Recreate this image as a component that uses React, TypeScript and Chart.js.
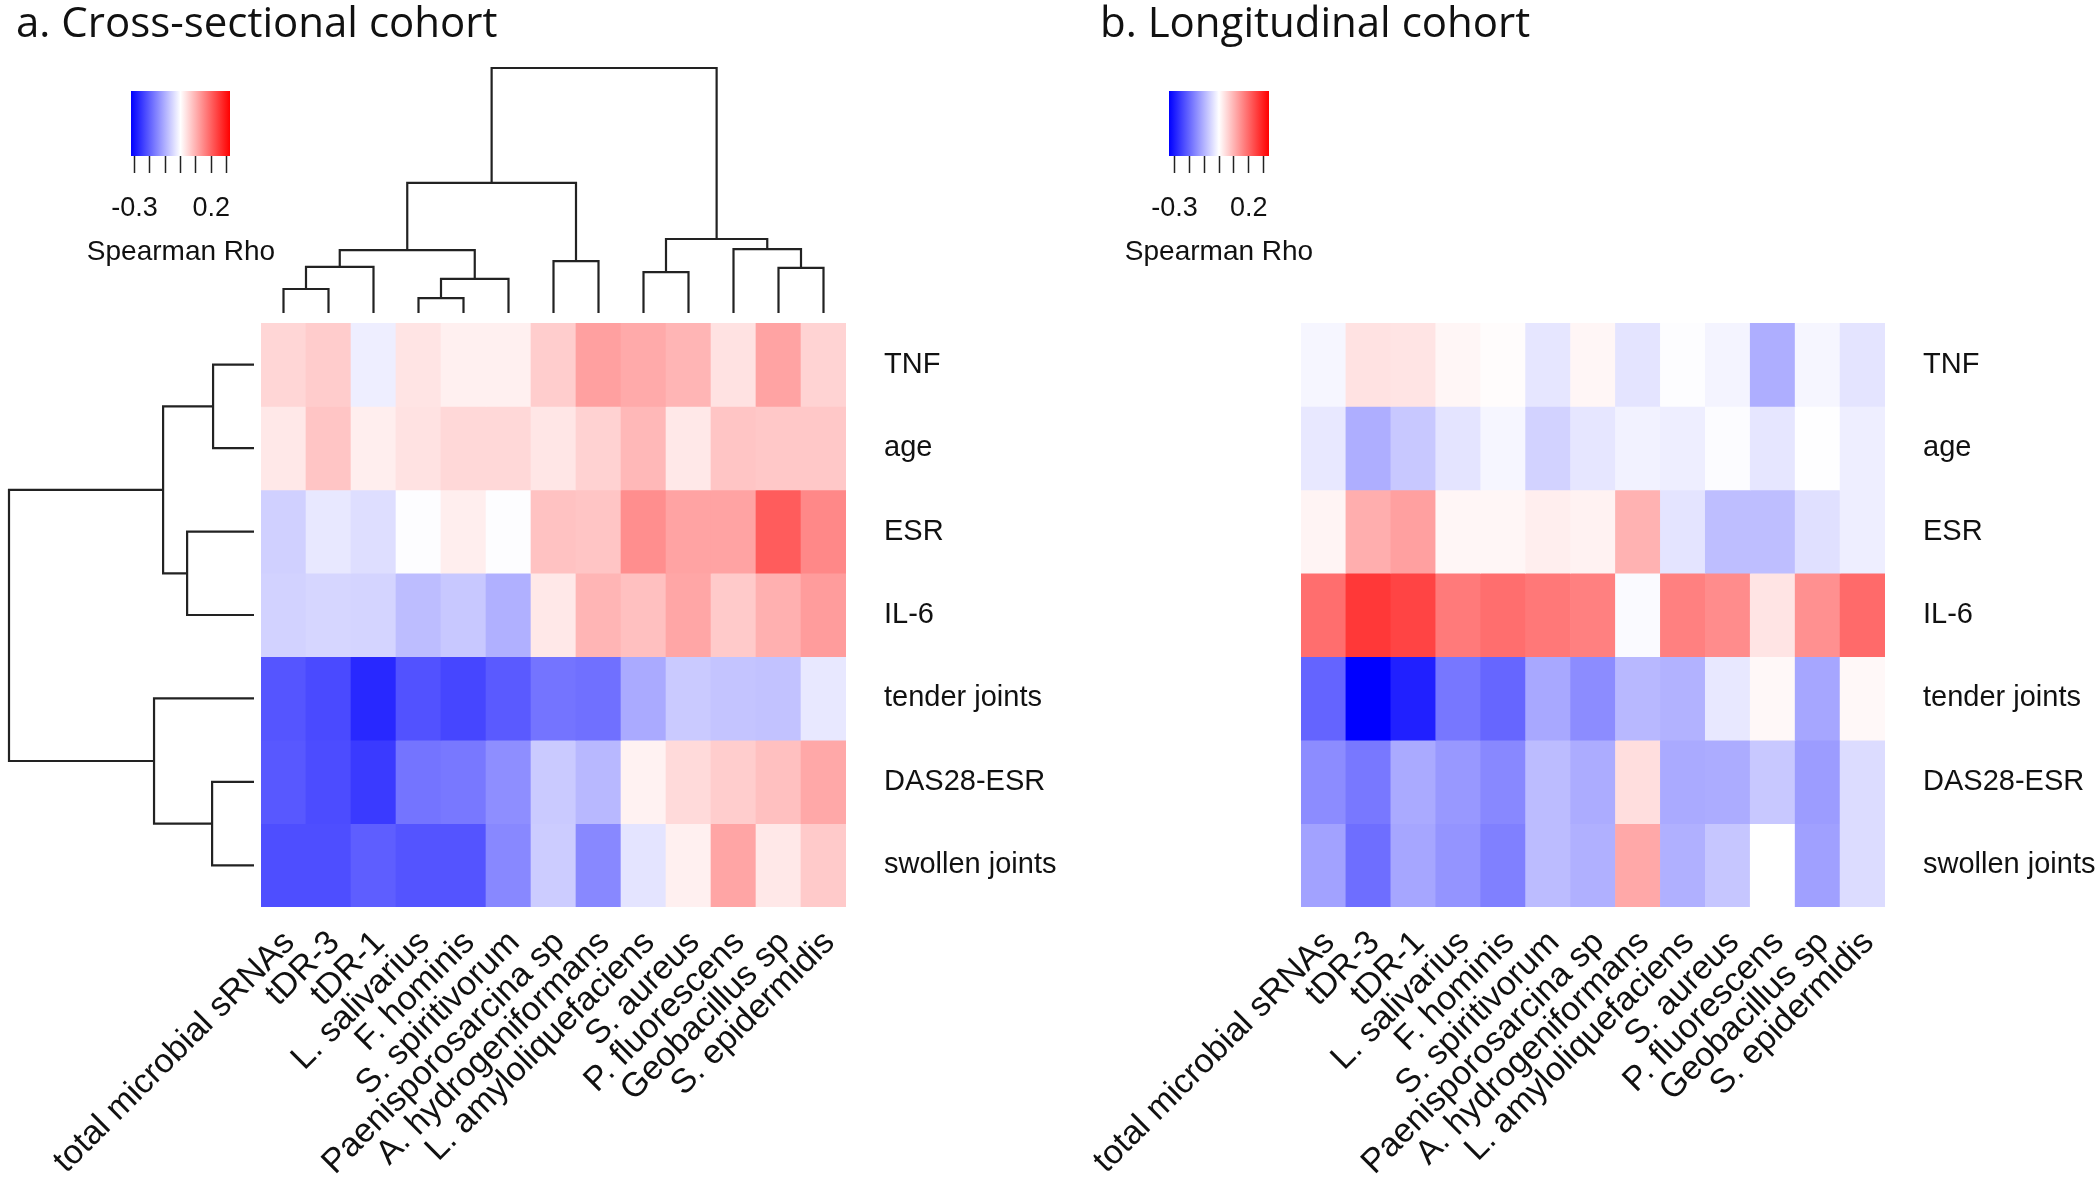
import React, { useEffect, useRef } from "react";
import { Chart, registerables } from "chart.js";

Chart.register(...registerables);

// ---------------- data ----------------
const colNames = [
  "total microbial sRNAs",
  "tDR-3",
  "tDR-1",
  "L. salivarius",
  "F. hominis",
  "S. spiritivorum",
  "Paenisporosarcina sp",
  "A. hydrogeniformans",
  "L. amyloliquefaciens",
  "S. aureus",
  "P. fluorescens",
  "Geobacillus sp",
  "S. epidermidis",
];

const rowNames = ["TNF", "age", "ESR", "IL-6", "tender joints", "DAS28-ESR", "swollen joints"];

// a. Cross-sectional cohort (Spearman rho)
const crossTNF = [0.052, 0.065, -0.022, 0.034, 0.019, 0.019, 0.063, 0.12, 0.108, 0.094, 0.037, 0.117, 0.056];
const crossAge = [0.029, 0.073, 0.022, 0.037, 0.049, 0.049, 0.032, 0.057, 0.09, 0.029, 0.073, 0.07, 0.07];
const crossESR = [-0.06, -0.029, -0.042, -0.003, 0.022, -0.003, 0.077, 0.073, 0.143, 0.117, 0.117, 0.206, 0.151];
const crossIL6 = [-0.057, -0.052, -0.054, -0.084, -0.07, -0.1, 0.029, 0.094, 0.08, 0.113, 0.067, 0.1, 0.125];
const crossTender = [-0.215, -0.229, -0.272, -0.219, -0.234, -0.209, -0.176, -0.181, -0.108, -0.067, -0.075, -0.077, -0.029];
const crossDAS28 = [-0.212, -0.227, -0.25, -0.176, -0.171, -0.143, -0.067, -0.09, 0.016, 0.047, 0.063, 0.08, 0.11];
const crossSwollen = [-0.224, -0.224, -0.204, -0.217, -0.217, -0.151, -0.065, -0.151, -0.034, 0.019, 0.114, 0.029, 0.067];

// b. Longitudinal cohort (Spearman rho)
const longTNF = [-0.012, 0.038, 0.036, 0.012, 0.004, -0.033, 0.012, -0.036, -0.003, -0.015, -0.107, -0.012, -0.036];
const longAge = [-0.03, -0.107, -0.073, -0.036, -0.012, -0.059, -0.033, -0.017, -0.022, -0.004, -0.033, -0.001, -0.022];
const longESR = [0.015, 0.107, 0.126, 0.012, 0.012, 0.022, 0.017, 0.102, -0.036, -0.086, -0.086, -0.041, -0.022];
const longIL6 = [0.192, 0.263, 0.247, 0.176, 0.192, 0.178, 0.168, -0.007, 0.168, 0.152, 0.036, 0.147, 0.197];
const longTender = [-0.205, -0.337, -0.295, -0.18, -0.202, -0.115, -0.152, -0.094, -0.102, -0.03, 0.009, -0.118, 0.009];
const longDAS28 = [-0.152, -0.178, -0.112, -0.136, -0.157, -0.089, -0.11, 0.044, -0.112, -0.11, -0.073, -0.131, -0.046];
const longSwollen = [-0.123, -0.192, -0.118, -0.141, -0.168, -0.089, -0.104, 0.115, -0.104, -0.075, 0.0, -0.126, -0.046];

// colour key ranges and ticks
const keyMaxCross = 0.323;
const keyMaxLong = 0.337;
const keyTicks = [-0.3, -0.2, -0.1, 0, 0.1, 0.2, 0.3];
const keyTickLabels = ["-0.3", "", "", "", "", "0.2", ""];
const keyTitle = "Spearman Rho";

// dendrograms (hclust style: negative = leaf index (1-based), positive = earlier merge)
const colMergeA = [-4, -1, -6, -9, -12, 2, -7, 6, -11, 4, 8, 11];
const colMergeB = [-5, -2, 1, -10, -13, -3, -8, 3, 5, 9, 7, 10];
const colMergeHeight = [0.061, 0.098, 0.139, 0.167, 0.184, 0.188, 0.212, 0.257, 0.261, 0.302, 0.531, 1.0];

const rowMergeA = [-1, -6, -3, 1, -5, 4];
const rowMergeB = [-2, -7, -4, 3, 2, 5];
const rowMergeHeight = [0.167, 0.171, 0.273, 0.371, 0.408, 1.0];

const titleA = "a. Cross-sectional cohort";
const titleB = "b. Longitudinal cohort";

// ---------------- helpers ----------------
const LABEL_FONT = "'Liberation Sans', Arial, sans-serif";
const TITLE_FONT = "'Open Sans', Lato, sans-serif";
const INK = "#111";
const LINE = "#222";

function bwr(v: number, k: number) {
  const t = Math.min(1, Math.abs(v) / k);
  const c = Math.round(255 * (1 - t));
  return v >= 0 ? `rgb(255,${c},${c})` : `rgb(${c},${c},255)`;
}

function dendroSegments(a: number[], b: number[], h: number[]) {
  const pos: number[] = [];
  const node = (n: number) => (n < 0 ? { p: -n - 0.5, h: 0 } : { p: pos[n - 1], h: h[n - 1] });
  const segs: { p: number; h: number }[][] = [];
  for (let i = 0; i < h.length; i++) {
    const l = node(a[i]);
    const r = node(b[i]);
    pos.push((l.p + r.p) / 2);
    segs.push([
      { p: l.p, h: l.h },
      { p: l.p, h: h[i] },
      { p: r.p, h: h[i] },
      { p: r.p, h: r.h },
    ]);
  }
  return segs;
}

type Box = { left: number; top: number; width: number; height: number };

function ChartCanvas({ box, make }: { box: Box; make: () => any }) {
  const ref = useRef<HTMLCanvasElement>(null);
  useEffect(() => {
    const chart = new Chart(ref.current as HTMLCanvasElement, make());
    return () => chart.destroy();
  }, []);
  return (
    <canvas
      ref={ref}
      width={box.width}
      height={box.height}
      style={{ position: "absolute", left: box.left, top: box.top, width: box.width, height: box.height }}
    />
  );
}

const baseOpts = {
  responsive: false,
  animation: false,
  devicePixelRatio: 1,
  events: [],
};

function textConfig(text: string, align: string, family: string, size: number, lineHeight: number) {
  return {
    type: "bar",
    data: { labels: [], datasets: [] },
    options: {
      ...baseOpts,
      layout: { padding: 0 },
      scales: { x: { display: false }, y: { display: false } },
      plugins: {
        legend: { display: false },
        tooltip: { enabled: false },
        title: {
          display: true,
          text,
          align,
          color: INK,
          font: { family, size, weight: "normal", lineHeight },
          padding: { top: 0, bottom: 0 },
        },
      },
    },
  };
}

function keyConfig(k: number, pad: { left: number; right: number; top: number; bottom: number }) {
  return {
    type: "bar",
    data: {
      labels: [keyTitle],
      datasets: [
        {
          data: [[-k, k]],
          borderWidth: 0,
          barPercentage: 1,
          categoryPercentage: 1,
          backgroundColor: (c: any) => {
            const ch = c.chart;
            const xs = ch.scales.x;
            if (!xs || !ch.chartArea) return "#fff";
            const g = ch.ctx.createLinearGradient(xs.getPixelForValue(-k), 0, xs.getPixelForValue(k), 0);
            g.addColorStop(0, bwr(-k, k));
            g.addColorStop(0.5, bwr(0, k));
            g.addColorStop(1, bwr(k, k));
            return g;
          },
        },
      ],
    },
    options: {
      ...baseOpts,
      indexAxis: "y",
      layout: { padding: pad },
      scales: {
        y: { display: false },
        x: {
          type: "linear",
          min: -k,
          max: k,
          position: "bottom",
          afterBuildTicks: (s: any) => {
            s.ticks = keyTicks.map((v) => ({ value: v }));
          },
          afterFit: (s: any) => {
            s.height = 80;
          },
          grid: { display: true, drawOnChartArea: false, drawTicks: true, tickLength: 17, tickColor: LINE, tickWidth: 1.5 },
          border: { display: false },
          ticks: {
            autoSkip: false,
            maxRotation: 0,
            minRotation: 0,
            padding: 19,
            color: INK,
            font: { family: LABEL_FONT, size: 27 },
            callback: (_v: any, i: number) => keyTickLabels[i],
          },
        },
      },
      plugins: { legend: { display: false }, tooltip: { enabled: false } },
    },
  };
}

function heatConfig(rows: number[][], k: number, pad: { left: number; right: number; top: number }, yWidth: number) {
  return {
    type: "bar",
    data: {
      labels: colNames,
      datasets: rows.map((vals, r) => ({
        label: rowNames[r],
        data: vals.map(() => 1),
        backgroundColor: vals.map((v) => bwr(v, k)),
        borderWidth: 0,
        barPercentage: 1,
        categoryPercentage: 1,
      })),
    },
    options: {
      ...baseOpts,
      layout: { padding: { ...pad, bottom: 0 } },
      scales: {
        x: {
          stacked: true,
          offset: true,
          grid: { display: false, drawTicks: false },
          border: { display: false },
          ticks: {
            autoSkip: false,
            minRotation: 45,
            maxRotation: 45,
            padding: 16,
            labelOffset: 6,
            color: INK,
            font: { family: LABEL_FONT, size: 34 },
          },
          afterFit: (s: any) => {
            s.height = 273;
          },
        },
        y: {
          stacked: true,
          position: "right",
          min: 0,
          max: rowNames.length,
          reverse: true,
          grid: { display: false, drawTicks: false },
          border: { display: false },
          afterBuildTicks: (s: any) => {
            s.ticks = rowNames.map((_, i) => ({ value: i + 0.5 }));
          },
          ticks: {
            padding: 38,
            color: INK,
            font: { family: LABEL_FONT, size: 29 },
            callback: (_v: any, i: number) => rowNames[i],
          },
          afterFit: (s: any) => {
            s.width = yWidth;
          },
        },
      },
      plugins: { legend: { display: false }, tooltip: { enabled: false } },
    },
  };
}

function dendroConfig(
  a: number[],
  b: number[],
  h: number[],
  nLeaves: number,
  horizontal: boolean,
  pad: { left: number; right: number; top: number; bottom: number }
) {
  const segs = dendroSegments(a, b, h);
  const datasets = segs.map((s) => ({
    data: s.map((pt) => (horizontal ? { x: pt.h, y: pt.p } : { x: pt.p, y: pt.h })),
    showLine: true,
    pointRadius: 0,
    borderColor: LINE,
    borderWidth: 2.2,
    tension: 0,
    clip: false,
    borderJoinStyle: "miter",
  }));
  const leafScale = { type: "linear", display: false, min: 0, max: nLeaves, reverse: horizontal };
  const hScale = { type: "linear", display: false, min: 0, max: 1, reverse: horizontal };
  return {
    type: "scatter",
    data: { datasets },
    options: {
      ...baseOpts,
      layout: { padding: pad },
      scales: horizontal ? { x: hScale, y: leafScale } : { x: leafScale, y: hScale },
      plugins: { legend: { display: false }, tooltip: { enabled: false } },
    },
  };
}

const crossRows = [crossTNF, crossAge, crossESR, crossIL6, crossTender, crossDAS28, crossSwollen];
const longRows = [longTNF, longAge, longESR, longIL6, longTender, longDAS28, longSwollen];

export default function App() {
  return (
    <div style={{ position: "absolute", left: 0, top: 0, width: 2100, height: 1180, background: "#fff", overflow: "hidden" }}>
      {/* panel a */}
      <ChartCanvas box={{ left: 16, top: 2, width: 600, height: 60 }} make={() => textConfig(titleA, "start", TITLE_FONT, 42, 1.1)} />
      <ChartCanvas
        box={{ left: 60, top: 60, width: 250, height: 190 }}
        make={() => keyConfig(keyMaxCross, { left: 71, right: 80, top: 31, bottom: 14 })}
      />
      <ChartCanvas box={{ left: 56, top: 235, width: 250, height: 40 }} make={() => textConfig(keyTitle, "center", LABEL_FONT, 28, 1.2)} />
      <ChartCanvas
        box={{ left: 250, top: 55, width: 610, height: 270 }}
        make={() => dendroConfig(colMergeA, colMergeB, colMergeHeight, colNames.length, false, { left: 11, right: 14, top: 13, bottom: 12 })}
      />
      <ChartCanvas
        box={{ left: 0, top: 310, width: 270, height: 610 }}
        make={() => dendroConfig(rowMergeA, rowMergeB, rowMergeHeight, rowNames.length, true, { left: 9, right: 16, top: 13, bottom: 13 })}
      />
      <ChartCanvas
        box={{ left: 0, top: 250, width: 1080, height: 930 }}
        make={() => heatConfig(crossRows, keyMaxCross, { left: 261, right: 14, top: 73 }, 220)}
      />
      {/* panel b */}
      <ChartCanvas box={{ left: 1100, top: 2, width: 600, height: 60 }} make={() => textConfig(titleB, "start", TITLE_FONT, 42, 1.1)} />
      <ChartCanvas
        box={{ left: 1100, top: 60, width: 250, height: 190 }}
        make={() => keyConfig(keyMaxLong, { left: 69, right: 81, top: 31, bottom: 14 })}
      />
      <ChartCanvas box={{ left: 1094, top: 235, width: 250, height: 40 }} make={() => textConfig(keyTitle, "center", LABEL_FONT, 28, 1.2)} />
      <ChartCanvas
        box={{ left: 1050, top: 250, width: 1050, height: 930 }}
        make={() => heatConfig(longRows, keyMaxLong, { left: 251, right: 0, top: 73 }, 215)}
      />
    </div>
  );
}
